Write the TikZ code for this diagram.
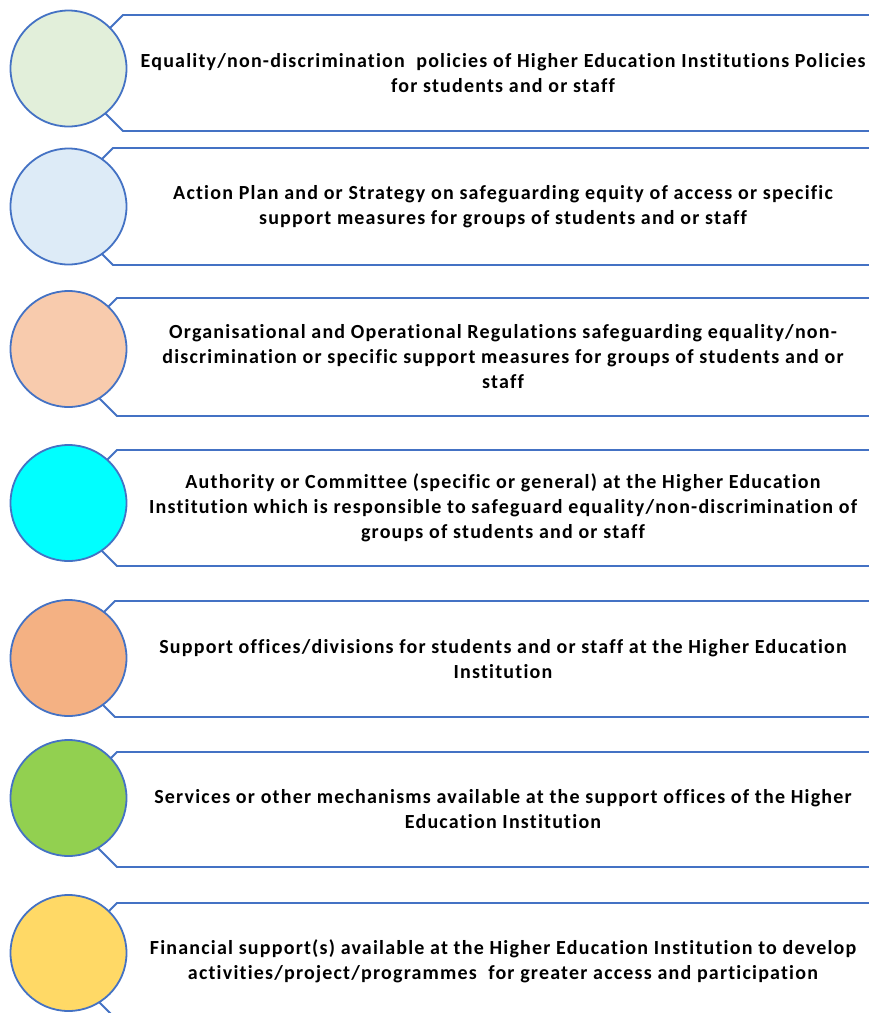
\documentclass[tikz,border=0pt]{standalone}
\usepackage{fontspec}
\setmainfont{Carlito}
\newfontfamily\boxfont{Carlito}[LetterSpace=6,Ligatures=NoCommon]
\definecolor{edge}{HTML}{4472C4}
\definecolor{cA}{HTML}{E2EFDA}
\definecolor{cB}{HTML}{DDEBF7}
\definecolor{cC}{HTML}{F8CBAD}
\definecolor{cD}{HTML}{00FFFF}
\definecolor{cE}{HTML}{F4B183}
\definecolor{cF}{HTML}{92D050}
\definecolor{cG}{HTML}{FFD966}
\tikzset{
  itembox/.style={draw=edge, line width=1.8pt, fill=white, line join=miter},
  bullet/.style={circle, draw=edge, line width=1.8pt, minimum size=116pt, inner sep=0pt},
  label/.style={align=center, font=\boxfont\fontsize{20}{25}\selectfont\bfseries, inner sep=0pt}
}
\newcommand{\rowitem}[7]{%
  % #1 name, #2 circle cy, #3 top, #4 bottom, #5 corner x, #6 colour, #7 text
  \pgfmathsetmacro{\hh}{(#4-#3)/2}
  \pgfmathsetmacro{\mid}{(#4+#3)/2}
  \pgfmathsetmacro{\tip}{#5-\hh}
  \draw[itembox] (\tip,\mid) -- (#5,#3) -- (885,#3) -- (885,#4) -- (#5,#4) -- cycle;
  \node[bullet, fill=#6] (#1c) at (68.5,#2) {};
  \node[label] (#1t) at (503,\mid) {#7};
}
\begin{document}
\begin{tikzpicture}[x=1pt,y=-1pt]
\clip (0,0) rectangle (869,1013);
\fill[white] (0,0) rectangle (869,1013);
\rowitem{a}{68.5}{15}{131}{123}{cA}{Equality/non-discrimination\ \ policies of Higher Education Institutions Policies\\for students and or staff}
\rowitem{b}{206.5}{148}{265}{113}{cB}{Action Plan and or Strategy on safeguarding equity of access or specific\\support measures for groups of students and or staff}
\rowitem{c}{349}{298}{416}{117}{cC}{Organisational and Operational Regulations safeguarding equality/non-\\discrimination or specific support measures for groups of students and or\\staff}
\rowitem{d}{503}{450}{566}{117}{cD}{Authority or Committee (specific or general) at the Higher Education\\Institution which is responsible to safeguard equality/non-discrimination of\\groups of students and or staff}
\rowitem{e}{658}{601}{717}{115}{cE}{Support offices/divisions for students and or staff at the Higher Education\\Institution}
\rowitem{f}{798}{752}{867}{117}{cF}{Services or other mechanisms available at the support offices of the Higher\\Education Institution}
\rowitem{g}{953}{903}{1020}{117}{cG}{Financial support(s) available at the Higher Education Institution to develop\\activities/project/programmes\ \ for greater access and participation}
\end{tikzpicture}
\end{document}
